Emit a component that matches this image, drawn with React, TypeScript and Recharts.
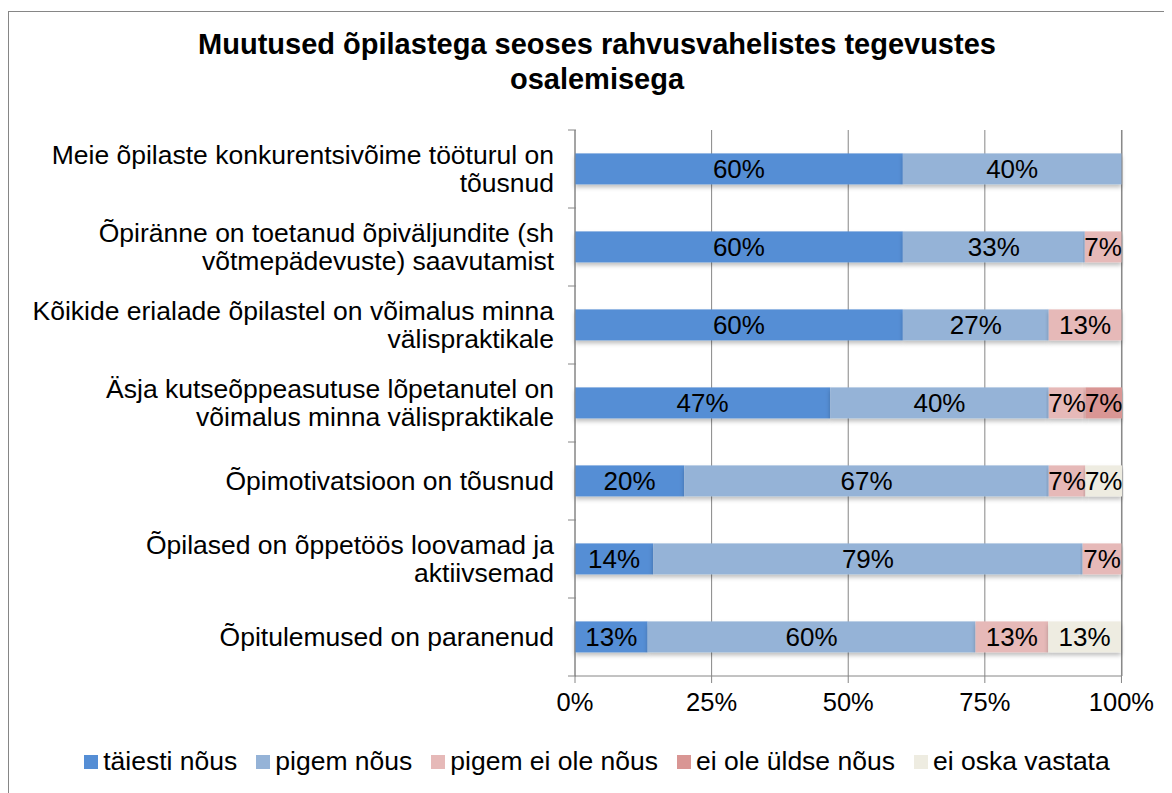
import { Bar, BarChart, CartesianGrid, LabelList, XAxis, YAxis } from "recharts";

const categories = [
  "Meie õpilaste konkurentsivõime tööturul on|tõusnud",
  "Õpiränne on toetanud õpiväljundite (sh|võtmepädevuste) saavutamist",
  "Kõikide erialade õpilastel on võimalus minna|välispraktikale",
  "Äsja kutseõppeasutuse lõpetanutel on|võimalus minna välispraktikale",
  "Õpimotivatsioon on tõusnud",
  "Õpilased on õppetöös loovamad ja|aktiivsemad",
  "Õpitulemused on paranenud",
];

const taiestiNous = [60, 60, 60, 46.7, 20, 14.3, 13.3];
const pigemNous = [40, 33.3, 26.7, 40, 66.7, 78.6, 60];
const pigemEiOleNous = [0, 6.7, 13.3, 6.7, 6.7, 7.1, 13.3];
const eiOleUldseNous = [0, 0, 0, 6.7, 0, 0, 0];
const eiOskaVastata = [0, 0, 0, 0, 6.7, 0, 13.3];

const xTicks = [0, 25, 50, 75, 100];

const series = [
  { key: "taiesti", name: "täiesti nõus", color: "#558ED5", values: taiestiNous },
  { key: "pigem", name: "pigem nõus", color: "#95B3D7", values: pigemNous },
  { key: "pigemEi", name: "pigem ei ole nõus", color: "#E6B9B8", values: pigemEiOleNous },
  { key: "eiOle", name: "ei ole üldse nõus", color: "#D99694", values: eiOleUldseNous },
  { key: "eiOska", name: "ei oska vastata", color: "#EEECE1", values: eiOskaVastata },
];

const data = categories.map((c, i) => {
  const row: Record<string, string | number> = { cat: c };
  series.forEach((s) => (row[s.key] = s.values[i]));
  return row;
});

const FONT = '"Liberation Sans", Arial, sans-serif';
const AXIS = "#868686";
const PLOT_H = 546;
const BAND = PLOT_H / categories.length;

function CatTick(props: any) {
  const { x, y, payload, index } = props;
  const lines = String(payload.value).split("|");
  const lh = 28;
  const y0 = y - ((lines.length - 1) * lh) / 2;
  return (
    <g>
      <line x1={x + 1} x2={x + 9} y1={y - BAND / 2} y2={y - BAND / 2} stroke={AXIS} />
      {index === categories.length - 1 && (
        <line x1={x + 1} x2={x + 9} y1={y + BAND / 2} y2={y + BAND / 2} stroke={AXIS} />
      )}
      <text x={x - 13} y={y0} textAnchor="end" dominantBaseline="central" fontSize={26.5} fill="#000" fontFamily={FONT}>
        {lines.map((l, i) => (
          <tspan key={i} x={x - 13} dy={i === 0 ? 0 : lh}>{l}</tspan>
        ))}
      </text>
    </g>
  );
}

function ShadowBar(props: any) {
  const { x, y, width, height, fill } = props;
  if (!width || width <= 0) return null;
  return <rect x={x} y={y} width={width} height={height} fill={fill} filter="url(#barShadow)" />;
}

export default function App() {
  return (
    <div style={{ position: "relative", width: 1190, height: 800, marginTop: 3, border: `1px solid ${AXIS}`, fontFamily: FONT, overflow: "hidden" }}>
      <div style={{ position: "absolute", left: 0, top: 15, width: 1176, textAlign: "center", fontWeight: "bold", fontSize: 29, lineHeight: "35px", color: "#000" }}>
        Muutused õpilastega seoses rahvusvahelistes tegevustes
        <br />
        osalemisega
      </div>
      <BarChart
        width={1160}
        height={740}
        data={data}
        layout="vertical"
        barCategoryGap="30%"
        margin={{ top: 118, right: 47, bottom: 0, left: 0 }}
        style={{ position: "absolute", left: 0, top: 0 }}
      >
        <defs>
          <filter id="barShadow" x="-5%" y="-20%" width="110%" height="160%">
            <feDropShadow dx="0" dy="3" stdDeviation="2" floodColor="#000" floodOpacity="0.25" />
          </filter>
        </defs>
        <CartesianGrid horizontal={false} stroke={AXIS} />
        <XAxis
          type="number"
          domain={[0, 100]}
          ticks={xTicks}
          tickFormatter={(v) => `${v}%`}
          stroke={AXIS}
          tickSize={7}
          tickMargin={10}
          tick={{ fill: "#000", fontSize: 25.5, fontFamily: FONT }}
          interval={0}
          height={76}
        />
        <YAxis
          type="category"
          dataKey="cat"
          width={566}
          stroke={AXIS}
          tickLine={false}
          tick={<CatTick />}
          interval={0}
        />
        {series.map((s) => (
          <Bar key={s.key} dataKey={s.key} name={s.name} stackId="a" fill={s.color} shape={<ShadowBar />} isAnimationActive={false}>
            <LabelList
              dataKey={s.key}
              position="center"
              formatter={(v: any) => (v > 0 ? `${Math.round(v)}%` : "")}
              fill="#000"
              fontSize={26}
              fontFamily={FONT}
            />
          </Bar>
        ))}
      </BarChart>
      <div style={{ position: "absolute", top: 734, left: 0, width: 1176, display: "flex", justifyContent: "center", gap: 19, fontSize: 26.5, color: "#000" }}>
        {series.map((s) => (
          <div key={s.key} style={{ display: "flex", alignItems: "center" }}>
            <span style={{ width: 14, height: 14, background: s.color, display: "inline-block", marginRight: 5 }} />
            <span>{s.name}</span>
          </div>
        ))}
      </div>
    </div>
  );
}
